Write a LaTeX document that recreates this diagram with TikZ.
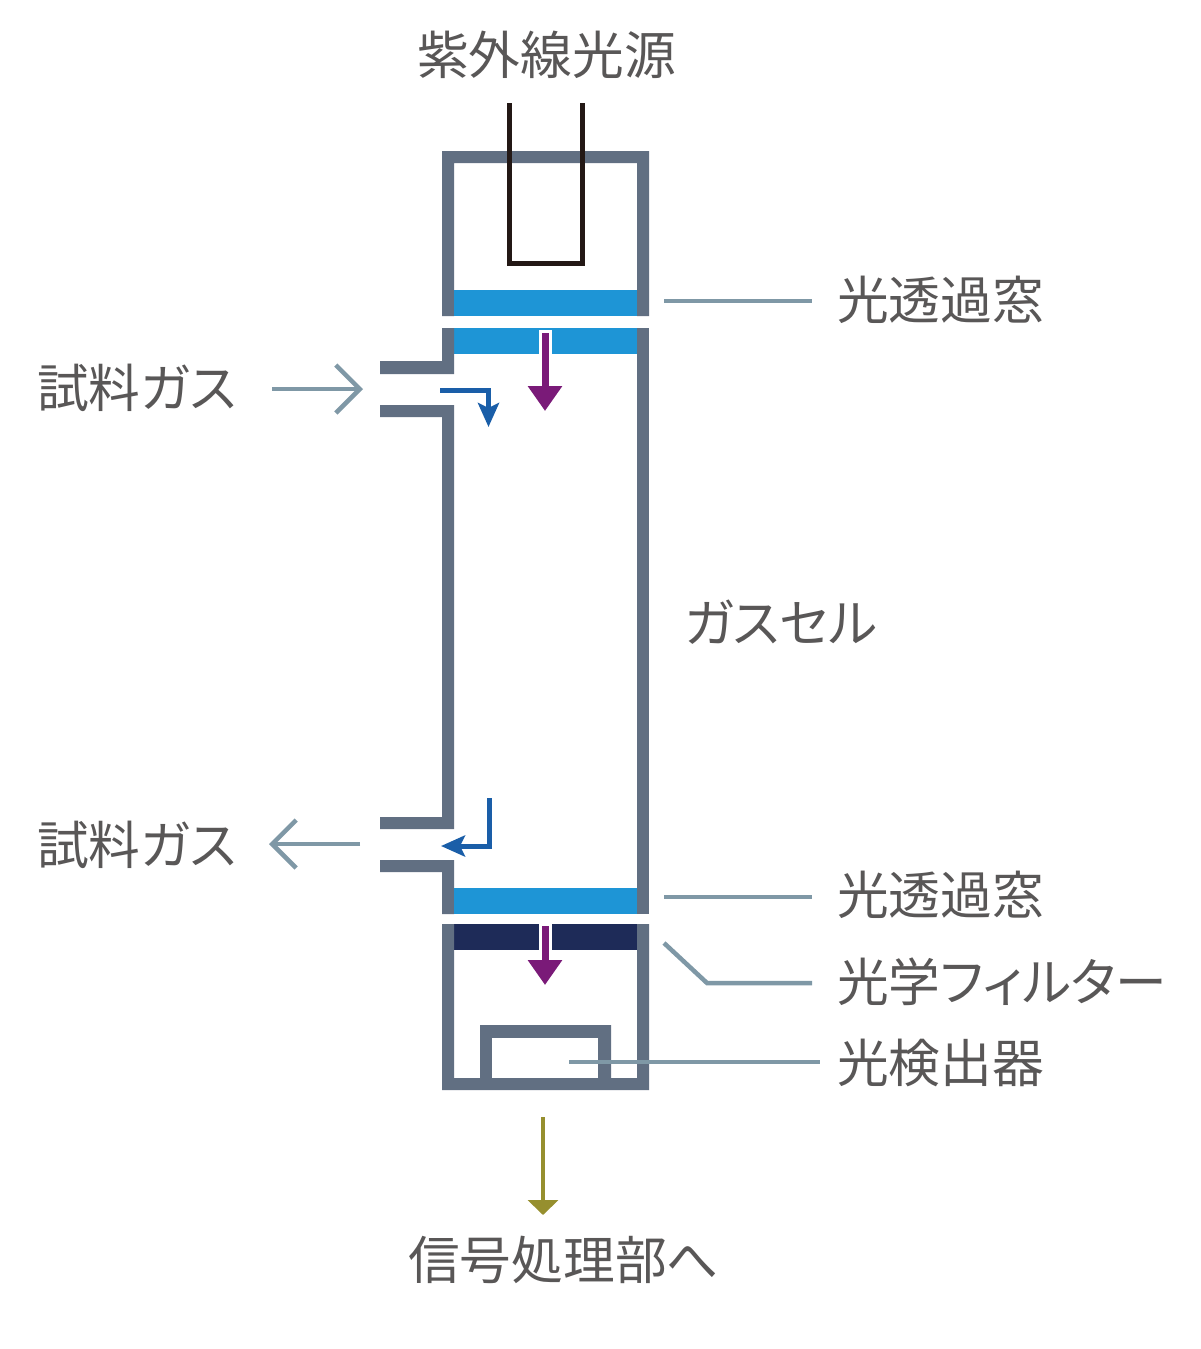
\documentclass[tikz,border=0pt]{standalone}
\usepackage{fontspec}
\newfontfamily\cjk[RawFeature={+palt}]{Noto Sans CJK JP}
\usetikzlibrary{arrows.meta}
\definecolor{wallc}{HTML}{616F82}
\definecolor{winc}{HTML}{1E95D6}
\definecolor{filtc}{HTML}{1E2B58}
\definecolor{purp}{HTML}{7A1A78}
\definecolor{flow}{HTML}{1A5EA8}
\definecolor{lead}{HTML}{7F98A6}
\definecolor{olive}{HTML}{968F2E}
\definecolor{lamp}{HTML}{231815}
\definecolor{txt}{HTML}{595757}
\tikzset{
  x=1pt,y=-1pt,
  wall/.style={draw=none,fill=wallc},
  win/.style={draw=none,fill=winc},
  leader/.style={draw=lead,line width=4.5pt},
  lbl/.style={inner sep=0pt,anchor=west,text=txt,font=\cjk\fontsize{51.7}{52}\selectfont},
  openhead/.style={draw=lead,line width=4.5pt,-{Straight Barb[length=24pt,width=48pt,line width=4.5pt]}},
  pflow/.style={draw=purp,line width=7pt,-{Triangle[length=25pt,width=33pt]}},
  bflow/.style={draw=flow,line width=5pt,-{Stealth[length=24pt,width=21pt,inset=5pt]}},
}
\begin{document}
\begin{tikzpicture}
\useasboundingbox (0,0) rectangle (1200,1349);
\fill[white] (0,0) rectangle (1200,1349);
% upper housing
\fill[wall] (442,316) -- (442,151) -- (649,151) -- (649,316) -- (637,316) -- (637,163) -- (454,163) -- (454,316) -- cycle;
\fill[win] (454,290) rectangle (637,316);
% cell
\fill[win] (454,328) rectangle (637,354);
\fill[wall] (442,328) -- (454,328) -- (454,374) -- (380,374) -- (380,361) -- (442,361) -- cycle;
\fill[wall] (380,405) -- (454,405) -- (454,817) -- (454,829) -- (380,829) -- (380,817) -- (442,817) -- (442,417) -- (380,417) -- cycle;
\fill[wall] (380,860) -- (454,860) -- (454,914) -- (442,914) -- (442,872) -- (380,872) -- cycle;
\fill[wall] (637,328) rectangle (649,914);
\fill[win] (454,888) rectangle (637,914);
% lower housing
\fill[filtc] (454,924) rectangle (637,950);
\fill[wall] (442,924) -- (454,924) -- (454,1078) -- (480,1078) -- (480,1025) -- (611,1025) -- (611,1078) -- (637,1078) -- (637,924) -- (649,924) -- (649,1090) -- (442,1090) -- cycle;
\fill[white] (492,1038) rectangle (598,1078);
% lamp
\coordinate (lampL) at (509,103);
\coordinate (lampR) at (582,103);
\draw[lamp,line width=5pt] (lampL) |- (lampR |- 0,263) -- (lampR);
% halos and light arrows
\fill[white] (539,330) rectangle (552,354);
\fill[white] (539,924) rectangle (552,950);
\coordinate (p1a) at (545,333);
\coordinate (p1b) at (545,411);
\coordinate (p2a) at (545,926);
\coordinate (p2b) at (545,985);
\draw[pflow] (p1a) -- (p1b);
\draw[pflow] (p2a) -- (p2b);
% gas flow
\coordinate (f1a) at (440,390);
\coordinate (f1b) at (488.5,427);
\draw[bflow] (f1a) -| (f1b);
\coordinate (f2a) at (489,798);
\coordinate (f2b) at (441,846);
\draw[bflow] (f2a) |- (f2b);
% labels
\node[lbl] (src) at (417,55) {紫外線光源};
\node[lbl] (w1) at (837,300) {光透過窓};
\node[lbl] (gasin) at (37,388) {試料ガス};
\node[lbl] (cell) at (684,622) {ガスセル};
\node[lbl] (gasout) at (37,845) {試料ガス};
\node[lbl] (w2) at (837,895) {光透過窓};
\node[lbl] (filt) at (837,982) {光学フィルター};
\node[lbl] (det) at (837,1063) {光検出器};
\node[lbl] (out) at (408,1260) {信号処理部へ};
% leaders
\coordinate (l1) at (664,301);
\coordinate (l1e) at (812,301);
\draw[leader] (l1) -- (l1e);
\coordinate (l2) at (664,897);
\coordinate (l2e) at (812,897);
\draw[leader] (l2) -- (l2e);
\coordinate (l3) at (664,943);
\coordinate (l3m) at (707,983);
\coordinate (l3e) at (812,983);
\draw[leader] (l3) -- (l3m) -- (l3e);
\coordinate (l4) at (569,1062);
\coordinate (l4e) at (820,1062);
\draw[leader] (l4) -- (l4e);
% open arrows
\coordinate (g1a) at (272,389);
\coordinate (g1b) at (363,389);
\draw[openhead] (g1a) -- (g1b);
\coordinate (g2a) at (360,844);
\coordinate (g2b) at (269,844);
\draw[openhead] (g2a) -- (g2b);
% output
\coordinate (oa) at (543,1117);
\coordinate (ob) at (543,1215);
\draw[draw=olive,line width=4.5pt,-{Triangle[length=15pt,width=30pt]}] (oa) -- (ob);
\end{tikzpicture}
\end{document}
